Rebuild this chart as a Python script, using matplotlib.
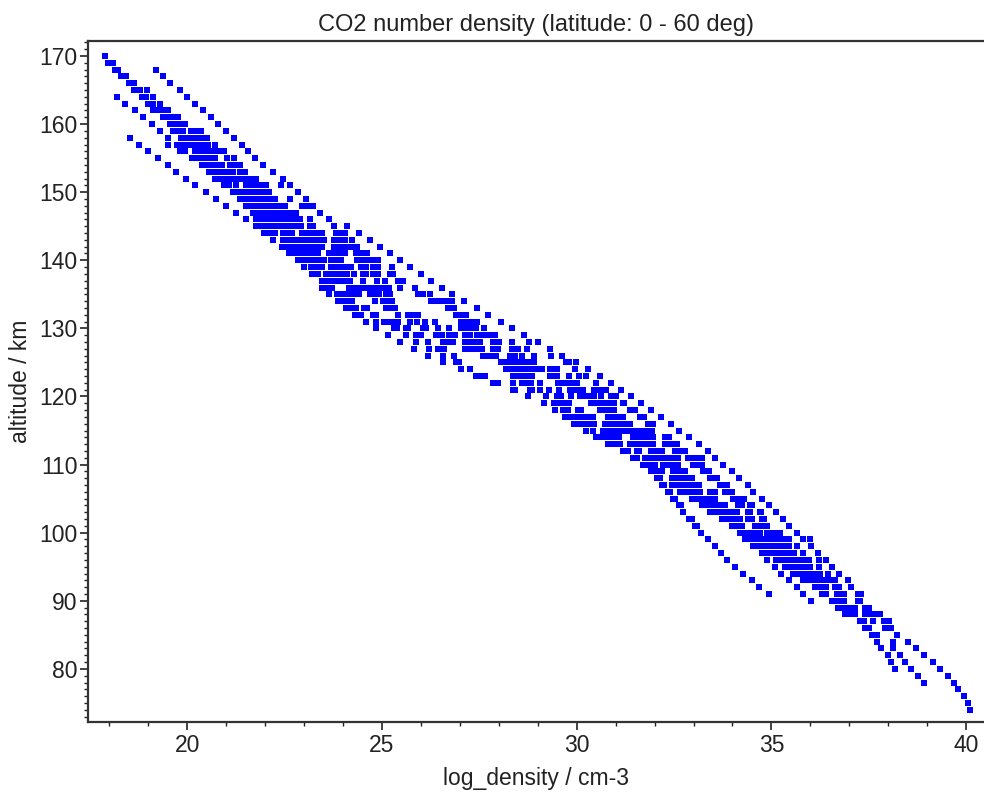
import numpy as np
import matplotlib.pyplot as plt
from matplotlib.ticker import MultipleLocator

plt.rcParams['font.family'] = ['Liberation Sans', 'DejaVu Sans']

# log10 number density per profile, one value per km going down from the top altitude
top_L = 158
prof_L = [18.52, 18.75, 19.0, 19.24, 19.5, 19.7, 19.96, 20.2, 20.47, 20.73,
          20.99, 21.24, 21.5, 21.76, 21.96, 22.2, 22.43, 22.6, 22.84, 23.0,
          23.2, 23.45, 23.45, 23.65, 23.86, 24.08, 24.3, 24.6, 24.85, 25.15,
          25.45, 25.83, 26.18, 26.56, 27.02, 27.42, 27.85, 28.36, 28.75, 29.16,
          29.45, 29.69, 29.93, 30.25, 30.5, 30.81, 31.19, 31.45, 31.71, 31.92,
          32.05, 32.2, 32.35, 32.48, 32.63, 32.72, 32.89, 33.04, 33.19, 33.36,
          33.55, 33.7, 33.86, 34.06, 34.28, 34.49, 34.69, 34.95]

top_M = 164
prof_M = [18.2, 18.4, 18.66, 18.87, 19.1, 19.3, 19.5, 19.5, 19.82, 20.12,
          20.38, 20.55, 20.72, 20.95, 21.18, 21.35, 21.5, 21.68, 21.77, 21.9,
          22.13, 22.45, 22.56, 22.72, 22.98, 23.17, 23.35, 23.6, 23.6, 23.85,
          24.0, 24.14, 24.38, 24.84, 25.32, 25.62, 25.88, 26.2, 26.56, 26.91,
          27.27, 27.55, 27.98, 28.42, 29.22, 29.42, 29.65, 29.82, 30.06, 30.43,
          30.63, 30.94, 31.26, 31.54, 31.84, 31.98, 32.1, 32.25, 32.4, 32.52,
          32.68, 33.42, 32.95, 33.1, 34.19, 34.32, 34.53, 34.75, 34.88, 35.1,
          35.25, 35.46, 35.67, 35.82, 36.02]

top_C1 = 169
prof_C1 = [17.97, 18.15, 18.3, 18.5, 18.62, 18.83, 19.0, 19.12, 19.38, 19.55,
           19.63, 19.83, 19.73, 19.95, 20.2, 20.45, 20.6, 20.8, 21.0, 21.25,
           21.4, 21.63, 21.75, 21.9, 22.03, 22.25, 22.58, 22.69, 22.85, 23.11,
           23.3, 23.55, 23.73, 23.72, 24.0, 24.07, 24.2, 24.46, 25.06, 25.38,
           25.88, 26.18, 26.45, 26.85, 26.97, 28.19, 27.64, 28.36, 28.79, 29.5,
           29.55, 29.72, 29.95, 30.19, 30.68, 30.76, 31.05, 31.33, 31.75, 31.97,
           32.05, 32.14, 32.44, 32.65, 32.95, 33.21, 33.5, 33.72, 33.98, 34.24,
           34.45, 34.6, 34.82, 35.13, 35.35, 35.56, 35.82, 36.12, 36.29, 36.55,
           36.72, 36.89, 37.28, 37.41]

top_C2 = 166
prof_C2 = [18.57, 18.78, 18.95, 19.13, 19.25, 19.5, 19.68, 19.76, 19.96, 19.86,
           20.2, 20.25, 20.51, 20.68, 20.85, 21.08, 21.31, 21.48, 21.76, 21.81,
           22.03, 22.16, 22.45, 22.71, 22.82, 22.98, 23.24, 23.45, 23.7, 23.86,
           24.15, 24.12, 24.13, 24.32, 24.78, 25.2, 25.62, 26.01, 26.56, 26.6,
           27.59, 28.06, 28.32, 28.36, 28.6, 28.86, 29.6, 29.68, 29.78, 30.08,
           30.32, 30.81, 30.89, 31.12, 31.55, 31.88, 32.01, 32.12, 32.44, 32.49,
           32.72, 33.02, 33.28, 33.55, 33.8, 34.05, 34.3, 34.58, 34.66, 34.88,
           35.26, 35.42, 35.69, 35.95, 36.25, 36.39, 36.62, 36.85, 37.02, 37.37]

top_C3 = 162
prof_C3 = [19.38, 19.62, 19.75, 19.9, 20.1, 20.0, 20.33, 20.38, 20.64, 20.81,
           20.98, 21.25, 21.44, 21.61, 21.89, 21.94, 22.16, 22.29, 22.6, 22.84,
           22.95, 23.11, 23.37, 23.68, 23.85, 23.93, 24.28, 24.25, 24.24, 24.54,
           24.84, 25.3, 25.68, 26.39, 26.69, 27.12, 27.66, 28.12, 28.45, 28.5,
           28.7, 29.05, 29.85, 29.8, 30.04, 30.21, 30.44, 30.94, 31.02, 31.36,
           31.6, 32.01, 32.22, 32.19, 32.5, 32.65, 32.78, 33.08, 33.34, 33.68,
           33.85, 34.11, 34.45, 34.71, 34.79, 35.01, 35.39, 35.48, 35.82, 36.08,
           36.32, 36.68, 36.68, 36.98, 37.16]

top_C4 = 160
prof_C4 = [19.82, 20.1, 20.23, 20.13, 20.46, 20.45, 20.77, 20.94, 21.11, 21.5,
           21.5, 21.74, 22.02, 22.07, 22.29, 22.42, 22.7, 22.97, 23.1, 23.24,
           23.5, 23.81, 23.98, 24.05, 24.41, 24.4, 24.81, 24.62, 25.41, 25.41,
           26.05, 26.53, 26.82, 27.25, 27.72, 28.19, 28.58, 28.62, 28.83, 29.29,
           30.08, 30.38, 30.1, 30.34, 30.72, 31.07, 31.08, 31.49, 31.92, 32.14,
           32.28, 32.48, 32.57, 32.72, 32.91, 33.21, 33.47, 33.81, 33.98, 34.18,
           34.5, 34.84, 34.92, 35.14, 35.52, 35.61, 35.95, 36.21, 36.39, 36.81,
           36.81, 37.11, 37.41]

top_C5 = 159
prof_C5 = [20.22, 20.36, 20.26, 20.6, 20.51, 20.9, 21.0, 21.24, 21.63, 21.57,
           21.8, 22.15, 22.2, 22.42, 22.55, 22.95, 23.12, 23.2, 23.36, 23.7,
           23.94, 24.1, 24.12, 24.54, 24.68, 25.02, 25.1, 25.66, 25.71, 26.14,
           26.73, 27.12, 27.38, 27.85, 28.32, 28.71, 28.75, 29.05, 29.55, 30.15,
           30.45, 30.59, 30.41, 30.85, 31.2, 31.45, 31.62, 31.99, 32.27, 32.35,
           32.55, 32.64, 32.78, 33.04, 33.34, 33.6, 33.94, 34.03, 34.24, 34.66,
           34.97, 35.05, 35.27, 35.65, 35.74, 36.08, 36.34, 36.63]

top_C6 = 157
prof_C6 = [20.4, 20.72, 20.64, 21.1, 21.07, 21.3, 21.7, 21.7, 21.87, 22.28,
           22.33, 22.55, 22.7, 23.08, 23.25, 23.3, 23.65, 23.83, 24.07, 24.28,
           24.18, 24.67, 24.8, 25.15, 25.16, 25.73, 25.89, 26.44, 26.87, 27.25,
           27.5, 27.94, 28.45, 28.84, 28.84, 29.52, 29.82, 30.21, 30.51, 30.66,
           30.81, 30.98, 31.33, 31.58, 31.75, 32.05, 32.4, 32.48, 32.61, 32.7,
           32.91, 33.17, 33.47, 33.73, 34.07, 34.19, 34.58, 34.71, 35.1, 35.18,
           35.4, 35.78, 35.87, 36.21, 36.47]

top_C7 = 157
prof_C7 = [20.53, 20.85, 20.72, 21.15, 21.17, 21.37, 21.76, 21.85, 22.0, 22.42,
           22.46, 22.68, 22.85, 23.21, 23.38, 23.45, 23.78, 23.96, 24.2, 24.5,
           24.5, 24.8, 24.92, 25.25, 25.22, 25.8, 26.1, 26.73, 27.12, 27.38,
           27.56, 28.28, 28.58, 28.97, 29.31, 29.58, 29.95, 30.34, 30.64, 30.72,
           30.94, 31.11, 31.46, 31.71, 31.88, 32.12, 32.53, 32.61, 32.7, 32.83,
           33.04, 33.42, 33.56, 33.81, 34.11, 34.41, 34.62, 34.88, 35.23, 35.31,
           35.5, 35.91]

top_C8 = 155
prof_C8 = [21.02, 21.23, 21.35, 21.5, 21.89, 21.95, 22.1, 22.5, 22.59, 22.8,
           22.92, 23.35, 23.5, 23.76, 23.91, 24.36, 24.45, 24.58, 24.88, 24.93,
           25.1, 26.26, 25.34, 25.93, 26.36, 27.03, 27.25, 27.51, 27.85, 28.35,
           28.71, 29.1, 29.4, 29.65, 30.08, 30.45, 30.77, 30.85, 31.07, 31.24,
           31.59, 31.84, 31.97, 32.19, 32.61, 32.99, 32.79, 32.96, 33.13, 33.5,
           34.02, 34.15, 34.41, 34.46, 34.79, 35.01, 35.36, 35.38]

top_C9 = 152
prof_C9 = [21.63, 22.02, 22.05, 22.25, 22.95, 22.72, 22.9, 23.16, 23.45, 23.78,
           23.9, 24.04, 24.5, 24.6, 24.76, 25.08, 25.06, 25.2, 26.39, 26.69,
           26.91, 27.03, 27.16, 27.43, 27.85, 27.99, 28.41, 28.84, 29.31, 29.49,
           29.78, 30.17, 30.62, 30.9, 30.95, 31.13, 31.3, 31.72, 31.97, 32.26,
           32.52, 32.86, 33.05, 33.25, 33.42, 33.68, 33.56, 34.1, 34.2, 34.46,
           34.5]

top_C10 = 144
prof_C10 = [23.82, 23.9, 24.05, 24.33, 24.66, 24.78, 24.9, 25.4, 25.18, 25.92,
            26.52, 26.75, 27.0, 27.16, 27.29, 27.59, 28.0, 28.35, 28.59, 28.9,
            29.4, 29.8, 29.92, 30.45, 30.89, 30.95, 31.36, 31.2, 31.37, 31.8,
            32.26, 32.39, 32.62, 32.99, 33.1, 33.3, 33.5, 33.75, 33.81, 34.15,
            34.24]

top_T = 170
prof_T = [17.88, 18.08, 18.22, 18.42, 18.63, 18.96, 19.13, 19.3, 19.5, 19.75,
          19.95, 20.35, 20.5, 20.7, 20.95, 21.19, 21.36, 21.48, 21.76, 22.4,
          22.1, 22.65, 23.1, 22.78, 23.16, 23.24, 23.98, 24.04, 24.2, 24.45,
          24.78, 24.9, 25.2, 25.47, 25.47, 26.05, 26.65, 26.8, 27.08, 27.29,
          27.42, 27.75, 28.35, 28.5, 28.9, 29.73, 29.49, 30.05, 30.0, 30.6,
          30.95, 31.19, 31.43, 31.62, 31.84, 31.85, 32.3, 32.52, 32.7, 33.12,
          33.15, 33.35, 33.55, 33.8, 33.9, 34.22, 34.45, 34.7, 34.75, 34.85,
          35.18, 35.44, 35.44, 35.57, 35.96, 36.0, 36.26, 36.6, 36.68, 36.86,
          36.86, 37.16, 37.54, 37.6, 37.5, 37.58, 37.71, 37.82, 37.99, 38.07,
          38.18]

top_U = 168
prof_U = [19.2, 19.38, 19.55, 19.8, 20.0, 20.2, 20.4, 20.6, 20.8, 21.0,
          21.2, 21.4, 21.55, 21.75, 21.95, 22.2, 22.45, 22.65, 22.85, 23.05,
          23.22, 23.4, 23.63, 23.76, 24.05, 24.23, 24.36, 24.62, 24.9, 25.26,
          25.28, 25.55, 25.86, 26.22, 26.79, 26.85, 27.15, 27.43, 27.62, 27.9,
          28.78, 28.73, 29.35, 29.8, 29.95, 30.25, 30.49, 30.76, 31.0, 31.22,
          31.5, 31.72, 31.97, 31.93, 32.36, 32.57, 32.79, 33.21, 33.21, 33.39,
          33.6, 33.86, 33.99, 34.29, 34.5, 34.73, 34.8, 34.89, 35.23, 35.8,
          35.67, 35.8, 36.23, 36.23, 36.45, 36.64, 36.73, 37.23, 37.23, 37.41,
          37.67, 37.88, 37.92, 37.71, 38.12, 38.13, 38.29, 38.42, 38.59, 38.76,
          38.91]

top_V = 145
prof_V = [24.1, 24.4, 24.7, 24.94, 25.2, 25.46, 25.73, 25.99, 26.25, 26.55,
          26.8, 27.1, 27.43, 27.72, 28.05, 28.35, 28.65, 29.0, 29.31, 29.63,
          29.97, 30.3, 30.6, 30.87, 31.14, 31.4, 31.65, 31.9, 32.16, 32.42,
          32.63, 32.89, 33.15, 33.36, 33.55, 33.77, 33.98, 34.17, 34.39, 34.54,
          34.75, 34.95, 35.12, 35.31, 35.46, 35.67, 36.0, 36.02, 36.19, 36.4,
          36.55, 36.74, 36.96, 37.04, 37.3, 37.28, 37.5, 37.8, 38.01, 38.06,
          38.23, 38.5, 38.72, 38.91, 39.14, 39.33, 39.53, 39.7, 39.8, 39.94,
          40.05, 40.11]

profiles = [(top_L, prof_L), (top_M, prof_M), (top_C1, prof_C1), (top_C2, prof_C2),
            (top_C3, prof_C3), (top_C4, prof_C4), (top_C5, prof_C5), (top_C6, prof_C6),
            (top_C7, prof_C7), (top_C8, prof_C8), (top_C9, prof_C9), (top_C10, prof_C10),
            (top_T, prof_T), (top_U, prof_U), (top_V, prof_V)]

fig = plt.figure(figsize=(9.84, 7.96), dpi=100)
ax = fig.add_axes([88 / 984, 1 - 722 / 796, (984 - 88) / 984, (722 - 41) / 796])

for top, dens in profiles:
    alt = np.arange(top, top - len(dens), -1)  # 1 km steps
    ax.plot(dens, alt, 's', color='#0000ff', markersize=3.7, markeredgewidth=0)

ax.set_xlim(17.45, 40.46)
ax.set_ylim(72.2, 172.2)
ax.xaxis.set_major_locator(MultipleLocator(5))
ax.xaxis.set_minor_locator(MultipleLocator(1))
ax.yaxis.set_major_locator(MultipleLocator(10))
ax.yaxis.set_minor_locator(MultipleLocator(1))

ax.spines['right'].set_visible(False)
for s in ['top', 'left', 'bottom']:
    ax.spines[s].set_linewidth(1.6)
    ax.spines[s].set_color('#333333')

ax.tick_params(which='major', direction='out', length=5.5, width=1.2, color='#222222',
               labelsize=16.5, labelcolor='#222222', pad=3)
ax.tick_params(which='minor', direction='out', length=3, width=1.0, color='#222222')
ax.tick_params(axis='y', which='major', pad=2)

ax.set_title('CO2 number density (latitude: 0 - 60 deg)', fontsize=17, color='#222222', pad=7)
ax.set_xlabel('log_density / cm-3', fontsize=16.5, color='#222222', labelpad=7)
ax.set_ylabel('altitude / km', fontsize=16.5, color='#222222', labelpad=5)

fig.savefig('out.png', dpi=100)
